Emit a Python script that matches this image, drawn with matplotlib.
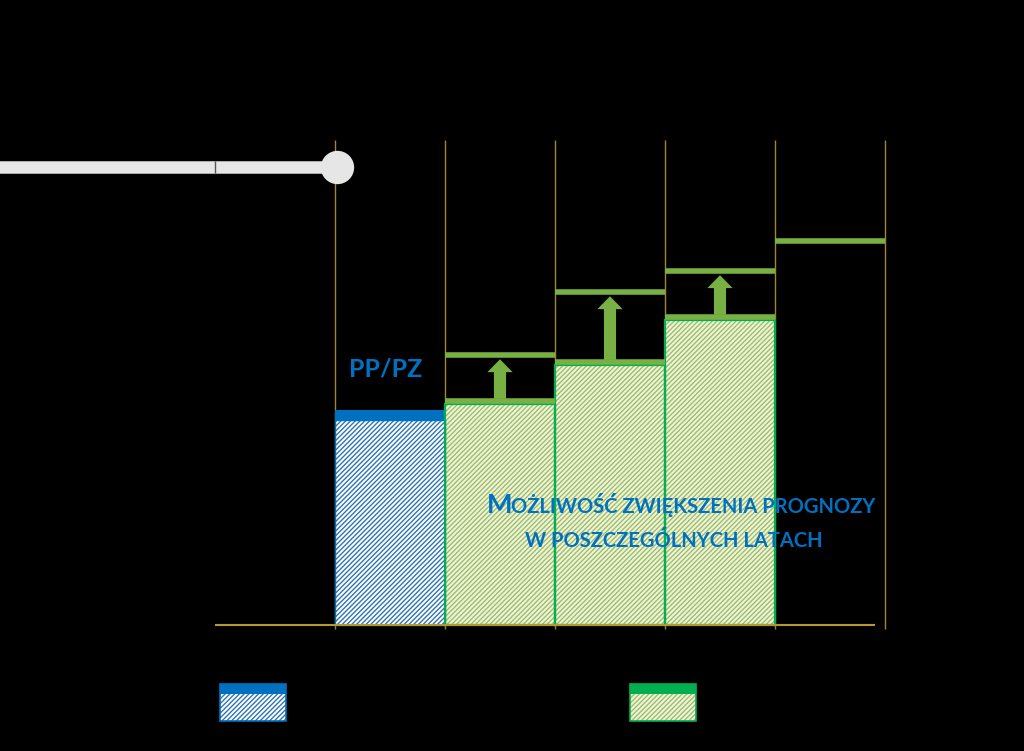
import matplotlib.pyplot as plt

# x = column index (one column per year), y = forecast value (PP/PZ = 100)
pp_col = 0
pp_value = 100.0
green_cols = [1, 2, 3]
green_values = [102.8, 120.9, 141.9]
upper_cols = [1, 2, 3, 4]
upper_values = [125.6, 154.9, 164.7, 178.6]
grid_edges = [0, 1, 2, 3, 4, 5]
grid_top = 225.6
slider_value = 213.0
pp_label = 'PP/PZ'
note_first = 'M'
note_line1 = 'OŻLIWOŚĆ ZWIĘKSZENIA PROGNOZY'
note_line2 = 'W POSZCZEGÓLNYCH LATACH'

BLUE = '#0070C0'
OLIVE = '#78B044'
GREEN_EDGE = '#00B050'
GOLD = '#A4862A'
HATCH = '///////'

plt.rcParams['font.family'] = ['Lato', 'DejaVu Sans']
plt.rcParams['hatch.linewidth'] = 1.0

fig = plt.figure(figsize=(10.24, 7.51), dpi=100, facecolor='black')
ax = fig.add_axes([0, 0, 1, 1])
ax.set_facecolor('black')
ax.set_xlim(-335 / 110, (1024 - 335) / 110)
ax.set_ylim(-(751 - 625) / 2.15, 625 / 2.15)
ax.axis('off')

# grid and base line
ax.vlines(grid_edges, -2, grid_top, color=GOLD, lw=1, zorder=1)
ax.hlines(0, -1.09, 4.91, color='#B8972E', lw=1.5, zorder=5)

# PP/PZ bar
cap = 4.7
ax.bar(pp_col, pp_value - cap, width=1, align='edge', color='white',
       edgecolor='#2E75B6', hatch=HATCH, lw=0, zorder=2)
ax.bar(pp_col, pp_value - cap, width=1, align='edge', fill=False,
       edgecolor=BLUE, lw=1, zorder=4)
ax.bar(pp_col, cap, bottom=pp_value - cap, width=1, align='edge',
       color=BLUE, lw=0, zorder=4)

# yearly forecast bars
ax.bar(green_cols, green_values, width=1, align='edge', color='#EFF6D6',
       lw=0, zorder=2)
ax.bar(green_cols, green_values, width=1, align='edge', fill=False,
       edgecolor='#9FBC72', hatch=HATCH, lw=0, zorder=3)
ax.bar(green_cols, green_values, width=1, align='edge', fill=False,
       edgecolor=GREEN_EDGE, lw=1.6, zorder=4)
for c, v in zip(green_cols, green_values):
    ax.hlines(v + 1.2, c, c + 1, color=OLIVE, lw=4, zorder=5)

# upper limits and arrows
for c, v in zip(upper_cols, upper_values):
    ax.hlines(v, c, c + 1, color=OLIVE, lw=4, zorder=5)
for c, v0, v1 in zip(green_cols, green_values, upper_values):
    ax.arrow(c + 0.5, v0 + 2.4, 0, v1 - v0 - 4.4, width=0.11,
             head_width=0.23, head_length=6.0, length_includes_head=True,
             color=OLIVE, lw=0, zorder=5)

# slider at the top
ax.plot([-3.1, 0.0], [slider_value, slider_value], color='#E6E6E6',
        lw=9, solid_capstyle='butt', zorder=3)
ax.vlines(-1.09, slider_value - 2.8, slider_value + 2.8, color='#555555',
          lw=1, zorder=4)
ax.plot([0.02], [slider_value], marker='o', ms=24, color='#E6E6E6',
        mec='none', zorder=4)

# texts
ax.text(0.46, 115.5, pp_label, color=BLUE, fontsize=18, fontweight='bold',
        ha='center', va='baseline', zorder=6)
m = ax.text(1.382, 52.1, note_first, color=BLUE, fontsize=19.5,
            fontweight='bold', ha='left', va='baseline', zorder=6)
ax.annotate(note_line1, xy=(1, 0), xycoords=m, xytext=(-1.0, 0),
            textcoords='offset points', color=BLUE, fontsize=14.5,
            fontweight='bold', ha='left', va='bottom', zorder=6)
ax.text(3.08, 36.3, note_line2, color=BLUE, fontsize=14.5, fontweight='bold',
        ha='center', va='baseline', zorder=6)

# legend swatches
for x0, top_color, face, hatch_col, edge in [
        (220, BLUE, 'white', '#2E75B6', BLUE),
        (630, GREEN_EDGE, '#EFF6D6', '#9FBC72', GREEN_EDGE)]:
    fx, fw = x0 / 1024, 66 / 1024
    fy, fh = (751 - 721) / 751, 27 / 751
    fig.patches.append(plt.Rectangle((fx, fy), fw, fh, transform=fig.transFigure,
                                     facecolor=face, lw=0, zorder=2))
    fig.patches.append(plt.Rectangle((fx, fy), fw, fh, transform=fig.transFigure,
                                     fill=False, edgecolor=hatch_col, hatch=HATCH,
                                     lw=0, zorder=3))
    fig.patches.append(plt.Rectangle((fx, fy), fw, fh + 10 / 751,
                                     transform=fig.transFigure, fill=False,
                                     edgecolor=edge, lw=1.2, zorder=4))
    fig.patches.append(plt.Rectangle((fx, fy + fh), fw, 10 / 751,
                                     transform=fig.transFigure,
                                     facecolor=top_color, lw=0, zorder=4))

fig.savefig('out.png', dpi=100, facecolor='black')
